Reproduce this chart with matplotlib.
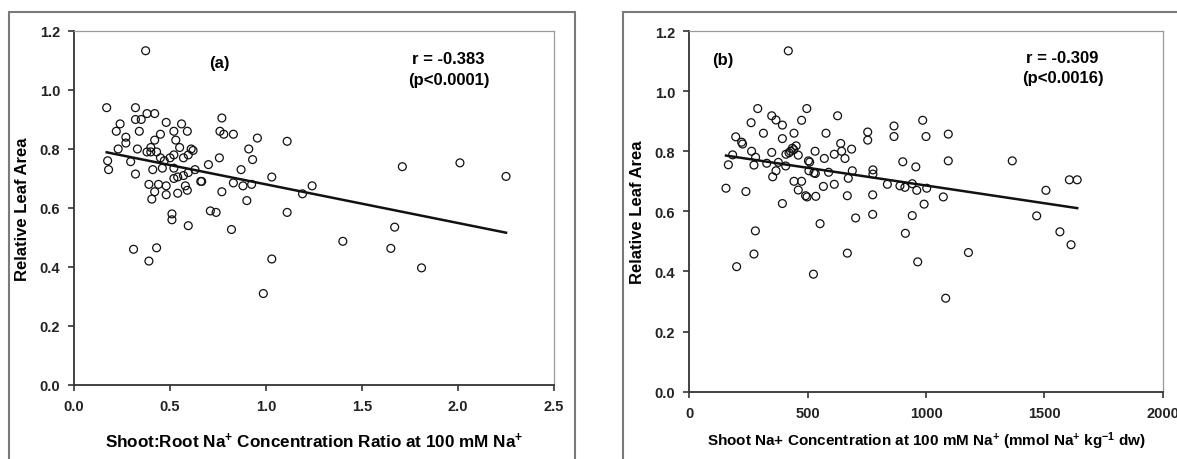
import matplotlib
matplotlib.use("Agg")
import matplotlib.pyplot as plt
from matplotlib.patches import Rectangle
import numpy as np

plt.rcParams['font.family'] = ['Liberation Sans', 'DejaVu Sans']
plt.rcParams['font.weight'] = 'bold'
plt.rcParams['mathtext.fontset'] = 'custom'
plt.rcParams['mathtext.rm'] = 'Liberation Sans:bold'
plt.rcParams['mathtext.bf'] = 'Liberation Sans:bold'
plt.rcParams['mathtext.it'] = 'Liberation Sans:bold'

# (a) shoot:root Na+ ratio vs relative leaf area
ratio = [0.17, 0.32, 0.32, 0.35, 0.38, 0.42, 0.24, 0.22, 0.34, 0.48,
         0.56, 0.59, 0.52, 0.45, 0.27, 0.27, 0.42, 0.53, 0.23, 0.33,
         0.40, 0.55, 0.61, 0.62, 0.175, 0.18, 0.295, 0.32, 0.38, 0.40,
         0.43, 0.45, 0.47, 0.50, 0.52, 0.57, 0.595, 0.41, 0.46, 0.52,
         0.39, 0.44, 0.48, 0.42, 0.405, 0.48, 0.52, 0.54, 0.57, 0.595,
         0.54, 0.58, 0.59, 0.51, 0.51, 0.595, 0.31, 0.43, 0.39, 0.63,
         0.66, 0.77, 0.76, 0.78, 0.83, 0.955, 1.11, 0.91, 0.93, 0.757,
         0.70, 0.87, 0.665, 0.83, 0.88, 0.925, 0.77, 1.03, 1.19, 1.24,
         0.90, 0.71, 0.74, 1.11, 0.82, 1.03, 0.986, 1.40, 1.67, 1.65,
         1.81, 1.71, 2.01, 2.25, 0.373]
rla_a = [0.94, 0.94, 0.90, 0.90, 0.92, 0.92, 0.885, 0.86, 0.86, 0.89,
         0.885, 0.86, 0.86, 0.85, 0.84, 0.82, 0.83, 0.83, 0.80, 0.80,
         0.805, 0.805, 0.80, 0.795, 0.76, 0.73, 0.757, 0.715, 0.79, 0.79,
         0.79, 0.77, 0.76, 0.77, 0.78, 0.77, 0.78, 0.73, 0.735, 0.735,
         0.68, 0.68, 0.675, 0.655, 0.63, 0.645, 0.70, 0.705, 0.71, 0.72,
         0.65, 0.675, 0.66, 0.58, 0.56, 0.54, 0.46, 0.465, 0.42, 0.73,
         0.69, 0.905, 0.86, 0.85, 0.85, 0.837, 0.826, 0.80, 0.764, 0.77,
         0.747, 0.73, 0.69, 0.685, 0.675, 0.68, 0.655, 0.705, 0.648, 0.675,
         0.625, 0.59, 0.585, 0.585, 0.527, 0.427, 0.31, 0.487, 0.535, 0.463,
         0.397, 0.74, 0.753, 0.707, 1.133]
fit_a = [-0.131, 0.811]   # slope, intercept

# (b) shoot Na+ concentration vs relative leaf area
na_conc = [419, 156, 166, 184, 197, 222, 226, 240, 262, 264,
           274, 281, 290, 314, 328, 349, 349, 353, 367, 367,
           377, 394, 394, 394, 408, 409, 422, 428, 436, 442,
           443, 443, 452, 461, 475, 475, 497, 461, 492, 498,
           504, 509, 506, 527, 533, 535, 532, 567, 571, 578,
           589, 613, 613, 627, 640, 644, 658, 668, 686, 689,
           672, 703, 754, 754, 776, 776, 775, 775, 837, 201,
           274, 280, 525, 553, 668, 865, 865, 986, 1000, 1094,
           1094, 902, 957, 890, 911, 942, 961, 1003, 1073, 992,
           942, 913, 965, 1083, 1179, 1364, 1506, 1605, 1638, 1467,
           1565, 1612]
rla_b = [1.134, 0.677, 0.755, 0.788, 0.848, 0.83, 0.824, 0.666, 0.895, 0.80,
         0.754, 0.78, 0.942, 0.86, 0.76, 0.796, 0.918, 0.715, 0.904, 0.735,
         0.763, 0.887, 0.842, 0.626, 0.751, 0.79, 0.795, 0.80, 0.81, 0.805,
         0.86, 0.70, 0.818, 0.787, 0.70, 0.903, 0.942, 0.671, 0.652, 0.648,
         0.768, 0.764, 0.735, 0.728, 0.726, 0.65, 0.80, 0.683, 0.776, 0.86,
         0.73, 0.69, 0.79, 0.918, 0.826, 0.80, 0.776, 0.652, 0.807, 0.735,
         0.71, 0.578, 0.864, 0.837, 0.738, 0.724, 0.655, 0.59, 0.69, 0.416,
         0.458, 0.535, 0.391, 0.559, 0.461, 0.884, 0.849, 0.903, 0.849, 0.857,
         0.768, 0.765, 0.748, 0.685, 0.68, 0.692, 0.67, 0.677, 0.648, 0.624,
         0.586, 0.527, 0.432, 0.311, 0.463, 0.768, 0.67, 0.705, 0.705, 0.585,
         0.532, 0.489]
fit_b = [-1.18e-4, 0.804]

fig = plt.figure(figsize=(11.77, 4.6), dpi=100)

# outer frames of the two panels
fig.add_artist(Rectangle((9/1177, -0.1), 566/1177, 1.1 - 13/460,
                         transform=fig.transFigure, fill=False,
                         ec='#7a7a7a', lw=1.5, clip_on=False))
fig.add_artist(Rectangle((623/1177, -0.1), 0.6, 1.1 - 13/460,
                         transform=fig.transFigure, fill=False,
                         ec='#7a7a7a', lw=1.5, clip_on=False))

axa = fig.add_axes([0.0629, 0.1609, 0.4078, 0.7696])
axb = fig.add_axes([0.5854, 0.1463, 0.4027, 0.7841])


def style(ax):
    for s in ['top', 'right']:
        ax.spines[s].set_color('#9a9a9a')
        ax.spines[s].set_linewidth(0.9)
    for s in ['left', 'bottom']:
        ax.spines[s].set_color('#333333')
        ax.spines[s].set_linewidth(1.3)
    ax.tick_params(direction='out', length=4, width=1.2, color='#333333',
                   labelsize=10.5, labelcolor='#222222', pad=6)
    ax.set_ylim(0, 1.2)
    ax.set_yticks(np.arange(0, 1.21, 0.2))
    ax.set_yticklabels(['%.1f' % v for v in np.arange(0, 1.21, 0.2)])
    ax.set_ylabel('Relative Leaf Area', fontsize=12, fontweight='bold',
                  va='center')


# panel a
style(axa)
axa.yaxis.set_label_coords(-(74-22)/480, 0.5)
axa.scatter(ratio, rla_a, s=32, facecolors='none', edgecolors='#111111',
            linewidths=0.9, zorder=3)
xa = np.array([min(ratio), max(ratio)])
axa.plot(xa, fit_a[0]*xa + fit_a[1], color='#111111', lw=1.8, zorder=4)
axa.set_xlim(0, 2.5)
axa.set_xticks(np.arange(0, 2.51, 0.5))
axa.set_xticklabels(['%.1f' % v for v in np.arange(0, 2.51, 0.5)])
axa.set_xlabel(r'Shoot:Root Na$^{+}$ Concentration Ratio at 100 mM Na$^{+}$',
               fontsize=12.3, fontweight='bold', va='center')
axa.xaxis.set_label_coords(0.5, -(441-386)/354)
axa.text(0.302, 0.912, '(a)', transform=axa.transAxes, ha='center',
         va='center', fontsize=12, fontweight='bold')
axa.text(0.78, 0.921, 'r = -0.383', transform=axa.transAxes, ha='center',
         va='center', fontsize=12, fontweight='bold')
axa.text(0.78, 0.864, '(p<0.0001)', transform=axa.transAxes, ha='center',
         va='center', fontsize=12, fontweight='bold')

# panel b
style(axb)
axb.yaxis.set_label_coords(-(689-637)/474, 0.5)
axb.scatter(na_conc, rla_b, s=32, facecolors='none', edgecolors='#111111',
            linewidths=0.9, zorder=3)
xb = np.array([min(na_conc), max(na_conc)])
axb.plot(xb, fit_b[0]*xb + fit_b[1], color='#111111', lw=1.8, zorder=4)
axb.set_xlim(0, 2000)
axb.set_xticks([0, 500, 1000, 1500, 2000])
axb.set_xlabel(r'Shoot Na+ Concentration at 100 mM Na$^{+}$ (mmol Na$^{+}$ kg$^{-1}$ dw)',
               fontsize=11, fontweight='bold', va='center')
axb.xaxis.set_label_coords(0.5, -(441-392.7)/360.7)
axb.text(0.072, 0.92, '(b)', transform=axb.transAxes, ha='center',
         va='center', fontsize=12, fontweight='bold')
axb.text(0.788, 0.927, 'r = -0.309', transform=axb.transAxes, ha='center',
         va='center', fontsize=12, fontweight='bold')
axb.text(0.788, 0.872, '(p<0.0016)', transform=axb.transAxes, ha='center',
         va='center', fontsize=12, fontweight='bold')

fig.savefig('out.png', dpi=100)
